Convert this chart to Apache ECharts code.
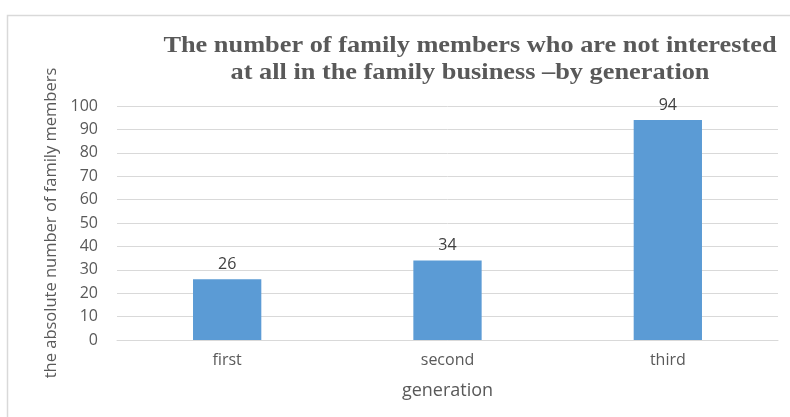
<!DOCTYPE html>
<html><head><meta charset="utf-8">
<script src="https://cdn.jsdelivr.net/npm/echarts@6/dist/echarts.min.js"></script>
<style>html,body{margin:0;padding:0;background:#fff}#c{width:790px;height:417px}</style>
</head><body><div id="c"></div>
<script>
const categories = ['first', 'second', 'third'];
const values = [26, 34, 94];
const titleLines = ['The number of family members who are not interested', 'at all in the family business \u2013by generation'];
const yAxisName = 'the absolute number of family members';
const xAxisName = 'generation';

const chart = echarts.init(document.getElementById('c'), null, {renderer: 'canvas'});
chart.setOption({
  animation: false,
  graphic: [
    {type: 'rect', shape: {x: 7.5, y: 15.5, width: 800, height: 420}, style: {fill: 'none', stroke: '#d9d9d9', lineWidth: 1.5}, silent: true},
    {type: 'text', x: 470, y: 35, scaleX: 1.17, silent: true,
     style: {text: titleLines[0], align: 'center', verticalAlign: 'top', fill: '#595959',
             font: 'bold 22.5px "Liberation Serif"'}},
    {type: 'text', x: 470, y: 61.5, scaleX: 1.17, silent: true,
     style: {text: titleLines[1], align: 'center', verticalAlign: 'top', fill: '#595959',
             font: 'bold 22.5px "Liberation Serif"'}}
  ],
  grid: {left: 117, right: 12, top: 106, bottom: 77, containLabel: false},
  xAxis: {
    type: 'category', data: categories,
    name: xAxisName, nameLocation: 'middle', nameGap: 42,
    nameTextStyle: {fontFamily: 'Open Sans', fontSize: 18, color: '#595959'},
    axisLine: {show: true, lineStyle: {color: '#d9d9d9', width: 1}},
    axisTick: {show: false},
    axisLabel: {fontFamily: 'Open Sans', fontSize: 16, color: '#595959', margin: 12}
  },
  yAxis: {
    type: 'value', min: 0, max: 100, interval: 10,
    name: yAxisName, nameLocation: 'middle', nameGap: 54, nameRotate: 90,
    nameTextStyle: {fontFamily: 'Open Sans', fontSize: 16.5, color: '#595959'},
    axisLine: {show: false}, axisTick: {show: false},
    axisLabel: {fontFamily: 'Open Sans', fontSize: 16, color: '#595959', margin: 19},
    splitLine: {lineStyle: {color: '#d9d9d9', width: 1}}
  },
  series: [{
    type: 'bar', data: values, barWidth: '31%',
    itemStyle: {color: '#5b9bd5'},
    label: {show: true, position: 'top', distance: 7, fontFamily: 'Open Sans', fontSize: 16, color: '#404040'}
  }]
});
</script></body></html>
